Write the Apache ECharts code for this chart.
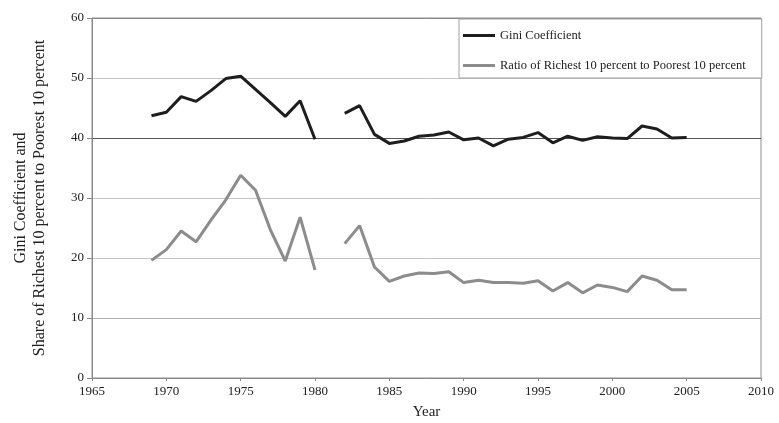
<!DOCTYPE html>
<html>
<head>
<meta charset="utf-8">
<script src="https://cdn.jsdelivr.net/npm/echarts@6/dist/echarts.min.js"></script>
<style>
  html, body { margin: 0; padding: 0; background: #fff; }
  #chart { width: 779px; height: 423px; }
</style>
</head>
<body>
<div id="chart"></div>
<script>
  // years with a gap at 1981 (no data)
  var years = [1969, 1970, 1971, 1972, 1973, 1974, 1975, 1976, 1977, 1978, 1979, 1980, 1981,
    1982, 1983, 1984, 1985, 1986, 1987, 1988, 1989, 1990, 1991, 1992, 1993, 1994, 1995,
    1996, 1997, 1998, 1999, 2000, 2001, 2002, 2003, 2004, 2005];
  var gini = [43.7, 44.3, 46.9, 46.1, 47.9, 49.9, 50.3, 48.1, 45.9, 43.6, 46.2, 39.8, null,
    44.1, 45.4, 40.6, 39.1, 39.5, 40.3, 40.5, 41.0, 39.7, 40.0, 38.7, 39.8, 40.1, 40.9,
    39.2, 40.3, 39.6, 40.2, 40.0, 39.9, 42.0, 41.5, 40.0, 40.1];
  var ratio = [19.6, 21.4, 24.5, 22.7, 26.3, 29.7, 33.8, 31.3, 24.7, 19.5, 26.8, 18.0, null,
    22.4, 25.4, 18.5, 16.1, 17.0, 17.5, 17.4, 17.7, 15.9, 16.3, 15.9, 15.9, 15.8, 16.2,
    14.5, 15.9, 14.2, 15.5, 15.1, 14.4, 17.0, 16.3, 14.7, 14.7];
  var seriesNames = ['Gini Coefficient', 'Ratio of Richest 10 percent to Poorest 10 percent'];

  function pairs(vals) {
    return years.map(function (y, i) { return [y, vals[i] === null ? '-' : vals[i]]; });
  }

  var serif = '"Liberation Serif", "DejaVu Serif", serif';
  var chart = echarts.init(document.getElementById('chart'));
  chart.setOption({
    animation: false,
    textStyle: { fontFamily: serif },
    grid: {
      left: 92, right: 18, top: 18, bottom: 45,
      outerBoundsMode: 'none',
      show: true, borderColor: '#8a8a8a', borderWidth: 1
    },
    legend: {
      orient: 'vertical',
      left: 459, top: 19,
      padding: [10, 16, 6, 4],
      itemGap: 17,
      icon: 'rect',
      itemWidth: 32, itemHeight: 3,
      backgroundColor: '#fff',
      borderColor: '#a0a0a0', borderWidth: 1,
      textStyle: { fontFamily: serif, fontSize: 12.5, color: '#222' },
      data: seriesNames
    },
    xAxis: {
      type: 'value',
      min: 1965, max: 2010, interval: 5,
      name: 'Year', nameLocation: 'middle', nameGap: 27,
      nameTextStyle: { fontFamily: serif, fontSize: 15, color: '#222' },
      axisLine: { lineStyle: { color: '#8a8a8a' } },
      axisTick: { length: 3, lineStyle: { color: '#8a8a8a' } },
      axisLabel: {
        fontFamily: serif, fontSize: 13, color: '#222', margin: 7,
        formatter: function (v) { return String(v); }
      },
      splitLine: { show: false }
    },
    yAxis: {
      type: 'value',
      min: 0, max: 60, interval: 10,
      name: 'Gini Coefficient and\nShare of Richest 10 percent to Poorest 10 percent',
      nameLocation: 'middle', nameGap: 43,
      nameTextStyle: { fontFamily: serif, fontSize: 16, color: '#222', lineHeight: 19 },
      axisLine: { show: true, lineStyle: { color: '#8a8a8a' } },
      axisTick: { show: true, length: 5, lineStyle: { color: '#8a8a8a' } },
      axisLabel: { fontFamily: serif, fontSize: 13, color: '#222', margin: 8 },
      splitLine: {
        lineStyle: { color: ['#c4c4c4', '#b0b0b0', '#c4c4c4', '#c4c4c4', '#555', '#c4c4c4', '#8a8a8a'] }
      }
    },
    series: [
      {
        name: seriesNames[0],
        type: 'line',
        data: pairs(gini),
        connectNulls: false,
        symbol: 'none',
        lineStyle: { color: '#1e1e1e', width: 3 },
        itemStyle: { color: '#1e1e1e' }
      },
      {
        name: seriesNames[1],
        type: 'line',
        data: pairs(ratio),
        connectNulls: false,
        symbol: 'none',
        lineStyle: { color: '#8c8c8c', width: 3 },
        itemStyle: { color: '#8c8c8c' }
      }
    ]
  });
</script>
</body>
</html>
